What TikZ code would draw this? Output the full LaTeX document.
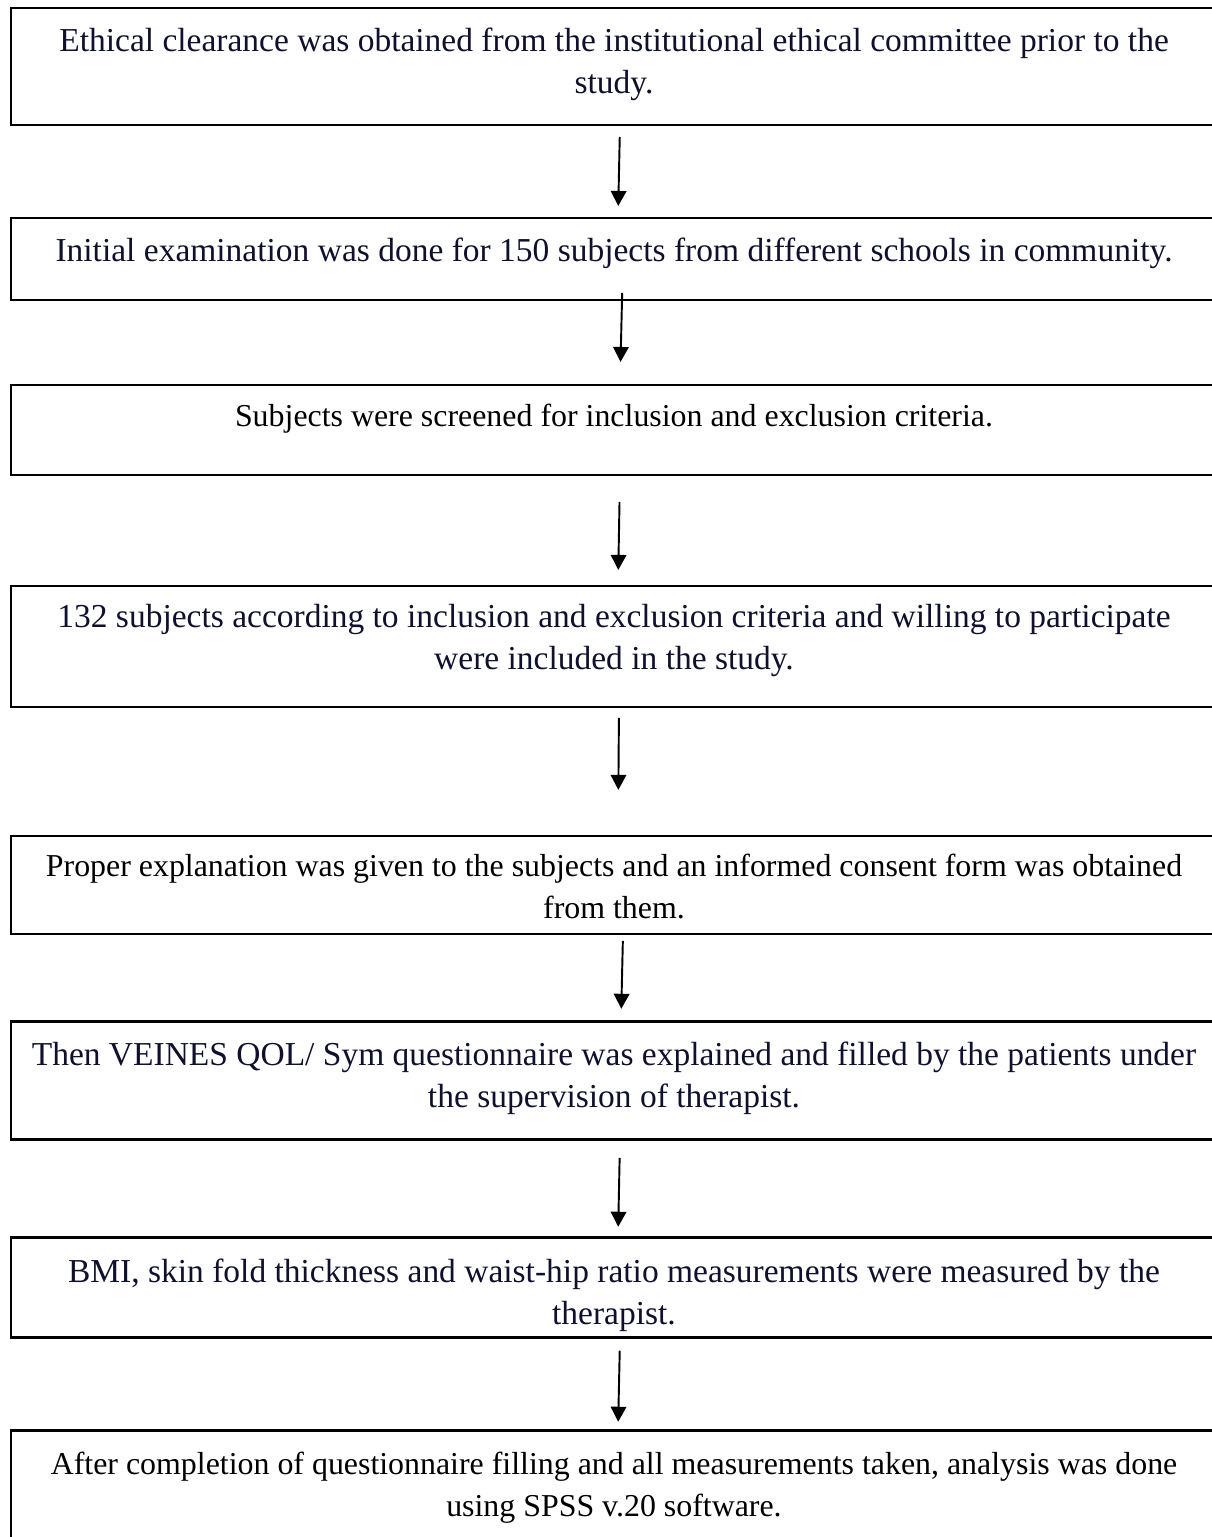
\documentclass[tikz,border=0pt]{standalone}
\usepackage{fontspec}
\setmainfont{Liberation Serif}
\usetikzlibrary{arrows.meta,positioning}
\definecolor{inknavy}{RGB}{14,16,46}
\tikzset{>={Triangle[width=0.31cm,length=0.3cm]}}

\begin{document}
\begin{tikzpicture}[x=0.02cm, y=-0.02cm,
		stepbox/.style={draw, line width=1.5pt, text width=24.12cm, align=flush center, inner sep=0pt, outer sep=0pt, font=\fontsize{19.06}{23.9}\selectfont, text=inknavy},
		stepboxk/.style={stepbox, font=\fontsize{18.15}{23.9}\selectfont, text=black},
		flow/.style={->, line width=1.1pt}]
		\useasboundingbox (0,0) rectangle (1212,1537);
		\clip (0,0) rectangle (1212,1537);
		
		\node[stepbox, anchor=north, text height=0.88cm, text depth=1.46cm] (ethics) at (614,8)
			{Ethical clearance was obtained from the institutional ethical committee prior to the\\ study.};
		\node[stepbox, below=1.86cm of ethics, text height=0.88cm, text depth=0.76cm] (exam)
			{Initial examination was done for 150 subjects from different schools in community.};
		\node[stepboxk, below=1.70cm of exam, text height=0.84cm, text depth=0.96cm] (screen)
			{Subjects were screened for inclusion and exclusion criteria.};
		\node[stepbox, below=2.22cm of screen, text height=0.84cm, text depth=1.58cm] (include)
			{132 subjects according to inclusion and exclusion criteria and willing to participate\\ were included in the study.};
		\node[stepboxk, below=2.58cm of include, text height=0.82cm, text depth=1.14cm] (consent)
			{Proper explanation was given to the subjects and an informed consent form was obtained\\ from them.};
		\node[stepbox, below=1.76cm of consent, text height=0.88cm, text depth=1.48cm] (veines)
			{Then VEINES QOL/ Sym questionnaire was explained and filled by the patients under\\ the supervision of therapist.};
		\node[stepbox, below=1.96cm of veines, text height=0.90cm, text depth=1.10cm] (measure)
			{BMI, skin fold thickness and waist-hip ratio measurements were measured by the\\ therapist.};
		\node[stepboxk, below=1.86cm of measure, text height=0.88cm, text depth=1.40cm] (analysis)
			{After completion of questionnaire filling and all measurements taken, analysis was done\\ using SPSS v.20 software.};
		
		\draw[flow, shorten <=0.24cm, shorten >=0.24cm] ([xshift=0.12cm]ethics.south) -- ([xshift=0.08cm]exam.north);
		\draw[flow, shorten <=-0.14cm, shorten >=0.46cm] ([xshift=0.16cm]exam.south) -- ([xshift=0.12cm]screen.north);
		\draw[flow, shorten <=0.54cm, shorten >=0.32cm] ([xshift=0.12cm]screen.south) -- ([xshift=0.08cm]include.north);
		\draw[flow, shorten <=0.22cm, shorten >=0.92cm] ([xshift=0.10cm]include.south) -- ([xshift=0.08cm]consent.north);
		\draw[flow, shorten <=0.14cm, shorten >=0.26cm] ([xshift=0.18cm]consent.south) -- ([xshift=0.14cm]veines.north);
		\draw[flow, shorten <=0.36cm, shorten >=0.22cm] ([xshift=0.12cm]veines.south) -- ([xshift=0.08cm]measure.north);
		\draw[flow, shorten <=0.26cm, shorten >=0.18cm] ([xshift=0.12cm]measure.south) -- ([xshift=0.08cm]analysis.north);
	\end{tikzpicture}
\end{document}
